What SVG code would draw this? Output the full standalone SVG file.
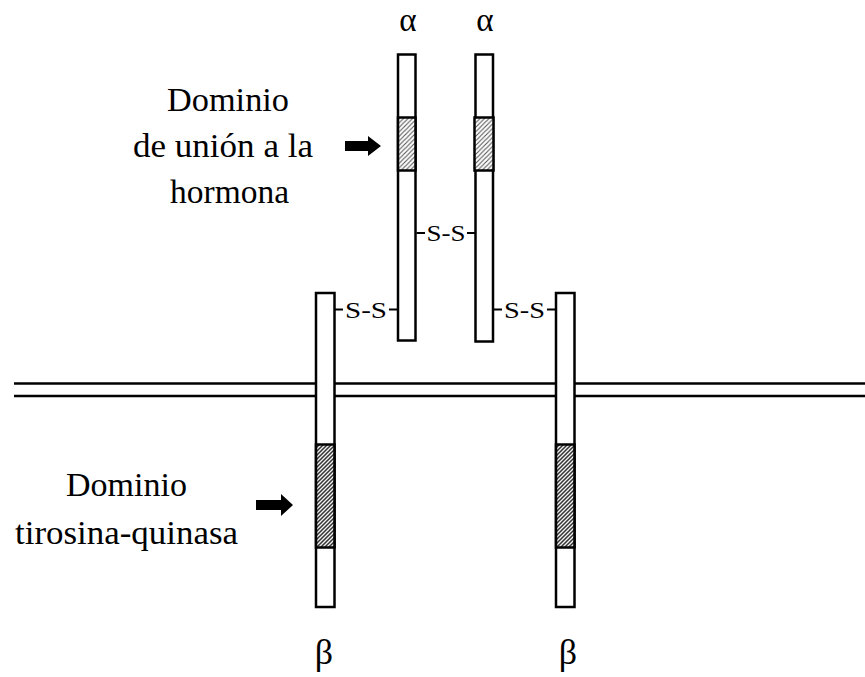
<svg xmlns="http://www.w3.org/2000/svg" width="865" height="677" viewBox="0 0 865 677">
  <defs>
    <pattern id="hatchLight" patternUnits="userSpaceOnUse" width="4.5" height="4.5">
      <rect width="4.5" height="4.5" fill="#ffffff"/>
      <path d="M-1,1 L1,-1 M0,4.5 L4.5,0 M3.5,5.5 L5.5,3.5" stroke="#555" stroke-width="1.1"/>
    </pattern>
    <pattern id="hatchDark" patternUnits="userSpaceOnUse" width="4" height="4">
      <rect width="4" height="4" fill="#f2f2f2"/>
      <path d="M-1,1 L1,-1 M0,4 L4,0 M3,5 L5,3" stroke="#333" stroke-width="1.5"/>
    </pattern>
  </defs>
  <style>
    .bar { fill: #ffffff; stroke: #000; stroke-width: 2.5; }
    .dom-a { fill: url(#hatchLight); stroke: #000; stroke-width: 2.5; }
    .dom-b { fill: url(#hatchDark); stroke: #000; stroke-width: 2.5; }
    .mem { stroke: #000; stroke-width: 2.5; fill: none; }
    .ss { stroke: #000; stroke-width: 2; fill: none; }
    .arrow { fill: #000; }
    text { font-family: 'Liberation Serif', 'Times New Roman', Times, Tinos, 'Nimbus Roman', FreeSerif, 'DejaVu Serif', serif; }
  </style>

  <!-- cell membrane (double line) -->
  <g id="membrane">
    <line class="mem" x1="14" y1="383.5" x2="865" y2="383.5"/>
    <line class="mem" x1="14" y1="396" x2="865" y2="396"/>
  </g>

  <g fill="#000">
    <!-- alpha subunits -->
    <g id="alpha1">
      <rect class="bar" x="398" y="54.5" width="17.5" height="286"/>
      <rect class="dom-a" x="398" y="117.5" width="17.5" height="53"/>
      <text x="408" y="31" font-size="33" text-anchor="middle">α</text>
    </g>
    <g id="alpha2">
      <rect class="bar" x="475.5" y="54.5" width="17.5" height="287"/>
      <rect class="dom-a" x="474.5" y="117.5" width="19" height="53"/>
      <text x="485" y="31" font-size="33" text-anchor="middle">α</text>
    </g>

    <!-- beta subunits -->
    <g id="beta1">
      <rect class="bar" x="316" y="293" width="18.5" height="314"/>
      <rect class="dom-b" x="316" y="444.5" width="18.5" height="103"/>
      <text x="324" y="664" font-size="36" text-anchor="middle">β</text>
    </g>
    <g id="beta2">
      <rect class="bar" x="556" y="293" width="18.5" height="314"/>
      <rect class="dom-b" x="556" y="444.5" width="18.5" height="103"/>
      <text x="568" y="664" font-size="36" text-anchor="middle">β</text>
    </g>

    <!-- disulfide bridges -->
    <g id="connectors" font-size="23">
      <line class="ss" x1="416.5" y1="233" x2="425" y2="233"/>
      <text x="426.5" y="241" textLength="39" lengthAdjust="spacingAndGlyphs">S-S</text>
      <line class="ss" x1="467" y1="233" x2="475" y2="233"/>

      <line class="ss" x1="335" y1="309.5" x2="343" y2="309.5"/>
      <text x="345" y="317.5" textLength="42" lengthAdjust="spacingAndGlyphs">S-S</text>
      <line class="ss" x1="389" y1="309.5" x2="397.5" y2="309.5"/>

      <line class="ss" x1="494" y1="309.5" x2="502" y2="309.5"/>
      <text x="504" y="317.5" textLength="41" lengthAdjust="spacingAndGlyphs">S-S</text>
      <line class="ss" x1="547" y1="309.5" x2="555.5" y2="309.5"/>
    </g>

    <!-- hormone-binding domain label -->
    <g id="label-binding" font-size="34">
      <text x="167" y="111" textLength="122" lengthAdjust="spacingAndGlyphs">Dominio</text>
      <text x="133" y="157" textLength="180" lengthAdjust="spacingAndGlyphs">de unión a la</text>
      <text x="170" y="203" textLength="119" lengthAdjust="spacingAndGlyphs">hormona</text>
      <polygon class="arrow" points="345,141 368,141 368,136 381,146 368,156 368,151 345,151"/>
    </g>

    <!-- tyrosine kinase domain label -->
    <g id="label-kinase" font-size="34">
      <text x="66" y="496" textLength="121" lengthAdjust="spacingAndGlyphs">Dominio</text>
      <text x="15" y="544" textLength="223" lengthAdjust="spacingAndGlyphs">tirosina-quinasa</text>
      <polygon class="arrow" points="256,500 281,500 281,494 293,505 281,516 281,510 256,510"/>
    </g>
  </g>
</svg>
